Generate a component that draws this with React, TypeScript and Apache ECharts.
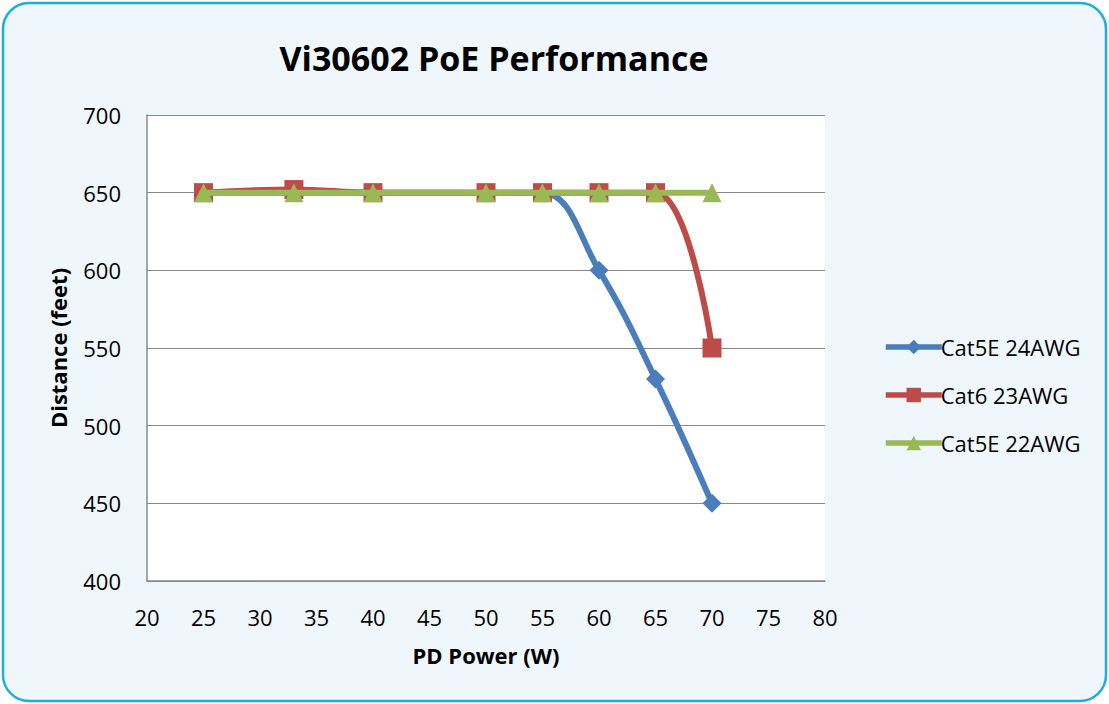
import React, { useEffect, useRef } from "react";
import * as echarts from "echarts";

const xValues = [25, 33, 40, 50, 55, 60, 65, 70];
const cat5e24 = [650, 650, 650, 650, 650, 600, 530, 450];
const cat6_23 = [650, 652, 650, 650, 650, 650, 650, 550];
const cat5e22 = [650, 650, 650, 650, 650, 650, 650, 650];
const seriesNames = ["Cat5E 24AWG", "Cat6 23AWG", "Cat5E 22AWG"];
const colors = ["#4A7EBB", "#BE4B48", "#98B954"];
const symbols = ["diamond", "rect", "triangle"];
const symbolSizes = [19, 19, 19];

const FONT = "'Open Sans', 'Noto Sans', sans-serif";

export default function App() {
  const ref = useRef<HTMLDivElement>(null);
  useEffect(() => {
    document.body.style.margin = "0";
    const chart = echarts.init(ref.current!, null, { renderer: "svg" });
    const datasets = [cat5e24, cat6_23, cat5e22];
    chart.setOption({
      animation: false,
      backgroundColor: "transparent",
      graphic: [
        {
          type: "rect",
          z: -10,
          silent: true,
          shape: { x: 3, y: 3, width: 1103, height: 698, r: 26 },
          style: { fill: "#EFF7FD", stroke: "#1AAEE5", lineWidth: 2.5 },
        },
      ],
      title: {
        text: "Vi30602 PoE Performance",
        left: 489,
        top: 36,
        textAlign: "center",
        textStyle: { fontFamily: FONT, fontWeight: "bold", fontSize: 34, color: "#000" },
      },
      legend: {
        orient: "vertical",
        left: 878,
        top: 331,
        itemGap: 26,
        itemWidth: 56,
        itemHeight: 18,
        lineStyle: { width: 5.5 },
        textStyle: { fontFamily: FONT, fontSize: 22, color: "#000", padding: [0, 0, 0, -6] },
        data: seriesNames,
      },
      grid: { left: 147, right: 284, top: 115, bottom: 123, backgroundColor: "#fff", show: true, borderWidth: 0 },
      xAxis: {
        type: "value",
        min: 20,
        max: 80,
        interval: 5,
        name: "PD Power (W)",
        nameLocation: "middle",
        nameGap: 63,
        nameTextStyle: { fontFamily: FONT, fontWeight: "bold", fontSize: 22, color: "#000" },
        axisLine: { show: true, lineStyle: { color: "#888", width: 1.5 } },
        axisTick: { show: false },
        axisLabel: { fontFamily: FONT, fontSize: 22, color: "#000", margin: 25 },
        splitLine: { show: false },
      },
      yAxis: {
        type: "value",
        min: 400,
        max: 700,
        interval: 50,
        name: "Distance (feet)",
        nameLocation: "middle",
        nameGap: 78,
        nameRotate: 90,
        nameTextStyle: { fontFamily: FONT, fontWeight: "bold", fontSize: 22, color: "#000" },
        axisLine: { show: true, lineStyle: { color: "#888", width: 1.5 } },
        axisTick: { show: false },
        axisLabel: { fontFamily: FONT, fontSize: 22, color: "#000", margin: 26 },
        splitLine: { show: true, lineStyle: { color: "#888", width: 1.2 } },
      },
      series: datasets.map((d, i) => ({
        name: seriesNames[i],
        type: "line",
        data: d.map((v, j) => [xValues[j], v]),
        smooth: 0.4,
        symbol: symbols[i],
        symbolSize: symbolSizes[i],
        showAllSymbol: true,
        lineStyle: { color: colors[i], width: 6 },
        itemStyle: { color: colors[i], borderWidth: 0 },
        z: 2 + i,
      })),
    });
    return () => chart.dispose();
  }, []);
  return <div ref={ref} style={{ width: 1109, height: 704, position: "absolute", left: 0, top: 0 }} />;
}
